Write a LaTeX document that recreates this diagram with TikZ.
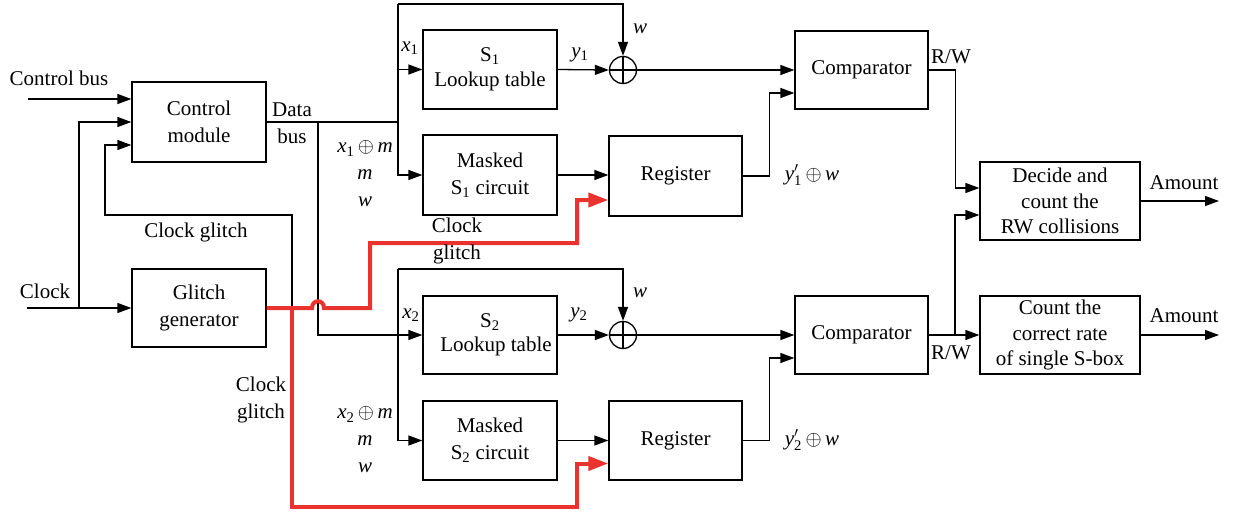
\documentclass[tikz,border=0pt]{standalone}
\usepackage{fontspec}
\usepackage{amsmath}
\setmainfont{Liberation Serif}
\usetikzlibrary{arrows.meta,calc}
\definecolor{glitchred}{RGB}{234,50,46}
\newcommand{\iv}[1]{\textit{#1}}
\newcommand{\ypw}[1]{\textit{y}$^{\prime}_{\text{#1}}$\,$\oplus$\,\textit{w}}
\newcommand{\xpm}[1]{\textit{x}\textsubscript{#1}\,$\oplus$\,\textit{m}}
\begin{document}
\begin{tikzpicture}[x=1pt,y=-1pt,
  font=\fontsize{21}{27}\selectfont,
  line width=1.3pt,
  box/.style={draw, align=center, inner sep=0pt, minimum width=134pt, minimum height=79pt},
  widebox/.style={box, minimum width=160pt, minimum height=78pt, font=\fontsize{21}{25.5}\selectfont},
  lbl/.style={inner sep=0pt, align=center},
  xorc/.style={circle, draw, minimum size=27pt, inner sep=0pt,
    path picture={\draw (path picture bounding box.north) -- (path picture bounding box.south)
                        (path picture bounding box.west) -- (path picture bounding box.east);}},
  arr/.style={-{Triangle[length=14pt,width=10pt]}},
  glitch/.style={draw=glitchred, line width=4pt, -{Triangle[length=20pt,width=14pt]}}]
\useasboundingbox (0,0) rectangle (1234,514);

% blocks
\node[box, minimum height=80pt] (ctrl) at (199,122) {Control\\module};
\node[box, minimum height=78pt] (gen) at (199,308) {Glitch\\generator};
\node[box, font=\fontsize{21}{25}\selectfont] (s1) at (490,69.5) {S\textsubscript{1}\\Lookup table};
\node[box, minimum height=80pt] (m1) at (490,175) {Masked\\S\textsubscript{1} circuit};
\node[box, minimum height=78pt, font=\fontsize{21}{24}\selectfont] (s2) at (490,335) {S\textsubscript{2}\\\hspace*{12pt}Lookup table};
\node[box] (m2) at (490,440.5) {Masked\\S\textsubscript{2} circuit};
\node[box, minimum width=133pt, minimum height=80pt] (r1) at (675.5,176) {Register};
\node[box, minimum width=133pt] (r2) at (675.5,440.5) {Register};
\node[box, minimum width=133pt, minimum height=78pt] (c1) at (861.5,70) {Comparator};
\node[box, minimum width=133pt, minimum height=78pt] (c2) at (861.5,335) {Comparator};
\node[widebox] (dec) at (1060,201) {Decide and\\count the\\RW collisions};
\node[widebox] (cnt) at (1060,335) {Count the\\correct rate\\of single S-box};
\node[xorc] (x1) at (623,70) {};
\node[xorc] (x2) at (623,335) {};

% free ends and junctions
\coordinate (cbin) at (28,99);
\coordinate (clkin) at (27,308);
\coordinate (clkbr) at (79,308);
\coordinate (gj) at (292,308);
\coordinate (busj) at (318,122);
\coordinate (top1) at (398,122);
\coordinate (up1) at (398,4);
\coordinate (up2) at (398,269);
\coordinate (rw2) at (955,335);
\coordinate (amt1) at (1219,201);
\coordinate (amt2) at (1219,335);

% inputs of the control module
\draw[arr] (cbin) -- (cbin -| ctrl.west);
\draw[arr] (clkin) -- (gen.west);
\draw[arr] (clkbr) |- (ctrl.west);
\draw[arr] (gj) |- (105,215) |- ($(ctrl.west)+(0,23)$);

% data bus
\draw (ctrl.east) -- (top1);
\draw[arr] (busj) |- (s2.west);
\draw[arr] (up1) |- (m1.west);
\draw[arr] (s1.west -| up1) -- (s1.west);
\draw[arr] (up1) -| (x1.north);
\draw[arr] (up2) |- (m2.west);
\draw[arr] (up2) -| (x2.north);

% lookup paths
\draw[arr] (s1.east) -- (x1.west);
\draw[arr] (s2.east) -- (x2.west);
\draw[arr] (x1.east) -- (c1.west);
\draw[arr] (x2.east) -- (c2.west);
\draw[arr] (m1.east) -- (m1.east -| r1.west);
\draw[arr] (m2.east) -- (m2.east -| r2.west);
\draw[arr] (r1.east) -- ++(27,0) |- ($(c1.west)+(0,23)$);
\draw[arr] (r2.east) -- ++(27,0) |- ($(c2.west)+(0,23)$);

% comparator outputs
\draw[arr] (c1.east) -- ++(27,0) |- ($(dec.west)+(0,-13)$);
\draw[arr] (c2.east) -- (cnt.west);
\draw[arr] (rw2) |- ($(dec.west)+(0,14)$);
\draw[arr] (dec.east) -- (amt1);
\draw[arr] (cnt.east) -- (amt2);

% clock glitch lines
\draw[glitch] (gen.east) -- (312,308) .. controls (312,299) and (324,299) .. (324,308)
  -- (370,308) |- (577,243) |- ($(r1.west)+(0,24)$);
\draw[glitch] (gj) |- (577,507) |- ($(r2.west)+(0,23)$);

% labels
\node[lbl] at (59,78) {Control bus};
\node[lbl] at (45,291) {Clock};
\node[lbl] at (196,232) {Clock glitch};
\node[lbl] at (292,123) {Data\\bus};
\node[lbl] at (457,241) {Clock\\glitch};
\node[lbl] at (261,400) {Clock\\glitch};
\node[lbl] at (410,48) {\iv{x}\textsubscript{1}};
\node[lbl] at (580,55) {\iv{y}\textsubscript{1}};
\node[lbl] at (411,315) {\iv{x}\textsubscript{2}};
\node[lbl] at (579,315) {\iv{y}\textsubscript{2}};
\node[lbl] at (640,29) {\iv{w}};
\node[lbl] at (640,293) {\iv{w}};
\node[lbl] at (365,174) {\xpm{1}\\\iv{m}\\\iv{w}};
\node[lbl] at (365,440) {\xpm{2}\\\iv{m}\\\iv{w}};
\node[lbl] at (951,57) {R/W};
\node[lbl] at (951,353) {R/W};
\node[lbl] at (812,175) {\ypw{1}};
\node[lbl] at (812,440) {\ypw{2}};
\node[lbl] at (1184,183) {Amount};
\node[lbl] at (1184,316) {Amount};
\end{tikzpicture}
\end{document}
